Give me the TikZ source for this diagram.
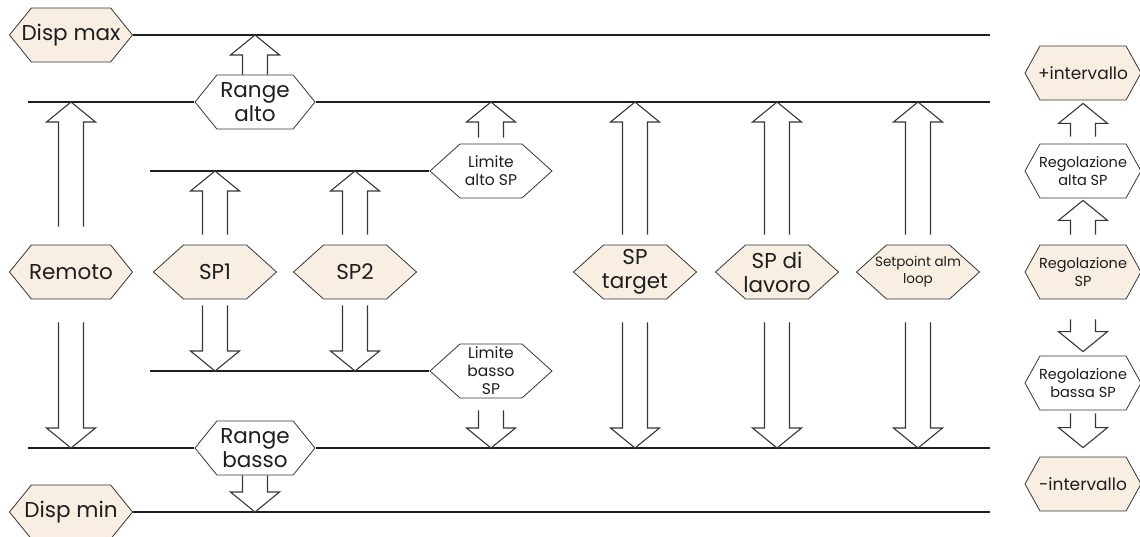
\documentclass[tikz,border=0pt]{standalone}
\usepackage{fontspec}
\setmainfont{Poppins}
\usepackage{tikz}
\usetikzlibrary{calc, shapes.symbols}

\definecolor{hexfill}{RGB}{248,238,226}
\definecolor{edge}{RGB}{55,55,55}
\definecolor{ink}{RGB}{30,30,30}

\newcommand{\labfont}{\fontsize{21.5}{24}\selectfont}
\newcommand{\notefont}{\fontsize{15.5}{18}\selectfont}
\newcommand{\regfont}{\fontsize{14.5}{18}\selectfont}
\newcommand{\almfont}{\fontsize{13.5}{17}\selectfont}
\newcommand{\spanfont}{\fontsize{17}{20}\selectfont}

\tikzset{
	hexa/.style={shape=signal, signal to=west and east, signal pointer angle=84,
		draw=edge, line width=0.8pt, fill=white, text=ink, inner xsep=-15pt, inner ysep=0pt,
		minimum height=54pt, minimum width=123pt, align=center, font=\labfont},
	src/.style={hexa, fill=hexfill},
	blunt/.style={signal pointer angle=102},
	flat/.style={signal pointer angle=122, minimum width=116pt},
	level/.style={draw=ink, line width=2.8pt},
	blk/.style={draw=edge, line width=1.1pt, to path={
		let \p1=(\tikztostart), \p2=(\tikztotarget), \n1={(\y2>\y1) ? -20 : 20} in
		(\x1-12.5pt,\y1) -- (\x1-12.5pt,\y2+\n1*1pt) -- (\x1-24.5pt,\y2+\n1*1pt)
		-- (\x1,\y2) -- (\x1+24.5pt,\y2+\n1*1pt) -- (\x1+12.5pt,\y2+\n1*1pt)
		-- (\x1+12.5pt,\y1)}}
}

\begin{document}
\begin{tikzpicture}[x=1pt, y=-1pt]
	
	\useasboundingbox (0,0) rectangle (1140,536);
	
	\coordinate (xr) at (990,0);
	\coordinate (ra-l) at (28,102);
	\coordinate (la-l) at (150,171);
	\coordinate (lb-l) at (150,371);
	\coordinate (rb-l) at (28,448);
	
	% limits and ranges
	\node[src, blunt] (dmax) at (71,35) {Disp max};
	\node[hexa, blunt, minimum width=120pt] (ralto) at (255,102) {Range\\alto};
	\node[hexa, minimum width=122pt, font=\notefont] (lalto) at (491,171) {Limite\\alto SP};
	\node[hexa, minimum width=122pt, font=\notefont] (lbasso) at (491,371) {Limite\\basso\\SP};
	\node[hexa, blunt, minimum width=120pt] (rbasso) at (255,448) {Range\\basso};
	\node[src, blunt] (dmin) at (71,512) {Disp min};
	
	% setpoint sources
	\node[src, blunt] (remoto) at (71,272) {Remoto};
	\node[src] (sp1) at (215,272) {SP1};
	\node[src] (sp2) at (355,272) {SP2};
	\node[src] (sptgt) at (635,272) {SP\\target};
	\node[src] (splav) at (777,272) {SP di\\lavoro};
	\node[src, font=\almfont] (spalm) at (918,272) {Setpoint alm\\loop};
	
	% trim column
	\node[src, flat, font=\spanfont] (piu) at (1083,73) {+intervallo};
	\node[hexa, flat, font=\regfont] (regalta) at (1083,171) {Regolazione\\alta SP};
	\node[src, flat, font=\regfont] (regsp) at (1083,272) {Regolazione\\SP};
	\node[hexa, flat, font=\regfont] (regbassa) at (1083,383) {Regolazione\\bassa SP};
	\node[src, flat, font=\spanfont] (meno) at (1083,484) {-intervallo};
	
	\draw[level] (dmax.east) -- (dmax.east -| xr);
	\draw[level] (ra-l) -- (ralto.west);
	\draw[level] (ralto.east) -- (ralto.east -| xr);
	\draw[level] (la-l) -- (lalto.west);
	\draw[level] (lb-l) -- (lbasso.west);
	\draw[level] (rb-l) -- (rbasso.west);
	\draw[level] (rbasso.east) -- (rbasso.east -| xr);
	\draw[level] (dmin.east) -- (dmin.east -| xr);
	
	\draw[blk] (ralto.north) to (ralto.north |- dmax.east);
	\draw[blk] (rbasso.south) to (rbasso.south |- dmin.east);
	\draw[blk] ([yshift=6pt]lalto.north) to (lalto |- ra-l);
	\draw[blk] ([yshift=-12pt]lbasso.south) to (lbasso |- rb-l);
	
	\draw[blk] ([yshift=18pt]remoto.north) to (remoto |- ra-l);
	\draw[blk] ([yshift=-23pt]remoto.south) to (remoto |- rb-l);
	
	\foreach \s in {sp1, sp2}{
		\draw[blk] ([yshift=10pt]\s.north) to (\s |- la-l);
		\draw[blk] ([yshift=-6pt]\s.south) to (\s |- lb-l);
	}
	\foreach \s in {sptgt, splav, spalm}{
		\draw[blk] ([yshift=10pt]\s.north) to (\s |- ra-l);
		\draw[blk] ([yshift=-23pt]\s.south) to (\s |- rb-l);
	}
	
	\draw[blk] ([yshift=7pt]regalta.north) to ([yshift=-3pt]piu.south);
	\draw[blk] ([yshift=10pt]regsp.north) to ([yshift=-2pt]regalta.south);
	\draw[blk] ([yshift=-20pt]regsp.south) to ([yshift=4pt]regbassa.north);
	\draw[blk] ([yshift=-3pt]regbassa.south) to ([yshift=9pt]meno.north);
	
\end{tikzpicture}
\end{document}
